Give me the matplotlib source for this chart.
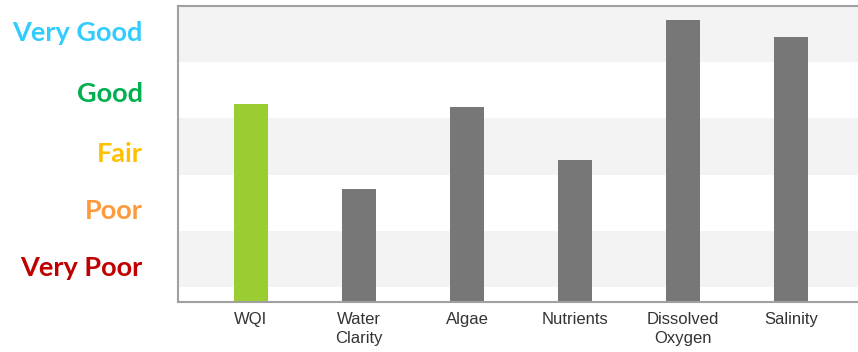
import matplotlib.pyplot as plt

# scores on a 0-100 scale, 20 points per rating band
categories = ["WQI", "Water\nClarity", "Algae", "Nutrients", "Dissolved\nOxygen", "Salinity"]
scores     = [65, 35, 64, 45, 95, 89]
bar_colors = ["#9acd32", "#777777", "#777777", "#777777", "#777777", "#777777"]

ratings       = ["Very Poor", "Poor", "Fair", "Good", "Very Good"]
rating_pos    = [7.5, 27.8, 47.9, 69.4, 91.2]
rating_colors = ["#c00000", "#ff9a3c", "#ffc000", "#00b050", "#33ccff"]

y_min, y_max = -5.4, 100

fig = plt.figure(figsize=(8.58, 3.52), dpi=100)
ax = fig.add_axes([0.2069, 0.142, 0.7931, 0.841])

# alternating background bands
for lo in (0, 40, 80):
    ax.axhspan(lo, lo + 20, color="#f3f3f3", zorder=0, lw=0)

x = range(len(categories))
ax.bar(x, [s - y_min for s in scores], bottom=y_min, width=0.32,
       color=bar_colors, zorder=2)

ax.set_xlim(-0.68, 5.62)
ax.set_ylim(y_min, y_max)

ax.set_xticks(list(x))
ax.set_xticklabels(categories, fontsize=12, color="#333333",
                   family="Liberation Sans", linespacing=1.35)
ax.tick_params(axis="x", length=0, pad=7)

ax.set_yticks(rating_pos)
ax.set_yticklabels(ratings, fontsize=19.5, fontweight="bold", family="Lato")
for lbl, c in zip(ax.get_yticklabels(), rating_colors):
    lbl.set_color(c)
ax.tick_params(axis="y", length=0, pad=25)

for side in ("left", "top", "bottom"):
    ax.spines[side].set_color("#a0a0a0")
    ax.spines[side].set_linewidth(1.5)
ax.spines["right"].set_visible(False)

fig.savefig("out.png", dpi=100)
